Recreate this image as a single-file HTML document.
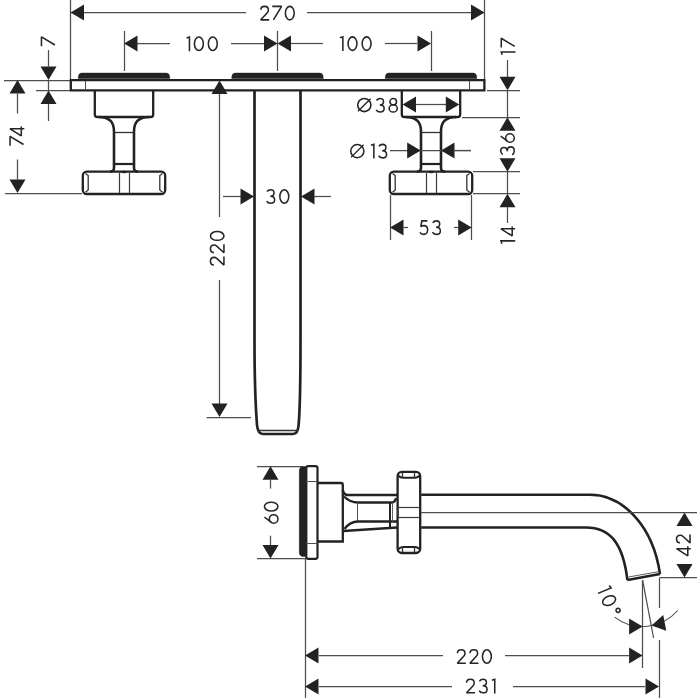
<!DOCTYPE html>
<html><head><meta charset="utf-8"><style>
html,body{margin:0;padding:0;background:#fff;width:700px;height:700px;overflow:hidden}
svg{display:block}
text{font-family:"Liberation Sans",sans-serif}
</style></head><body>
<svg width="700" height="700" viewBox="0 0 700 700">
<rect width="700" height="700" fill="#fff"/>
<line x1="70.5" y1="0" x2="70.5" y2="79" stroke="#4d4d4d" stroke-width="1.25"/>
<line x1="484.5" y1="0" x2="484.5" y2="79" stroke="#4d4d4d" stroke-width="1.25"/>
<line x1="70.5" y1="12.5" x2="246" y2="12.5" stroke="#4d4d4d" stroke-width="1.25"/>
<line x1="307" y1="12.5" x2="484.5" y2="12.5" stroke="#4d4d4d" stroke-width="1.25"/>
<polygon points="70.50,12.50 84.00,4.50 84.00,20.50" fill="#222"/>
<polygon points="484.50,12.50 471.00,4.50 471.00,20.50" fill="#222"/>
<line x1="124.5" y1="31" x2="124.5" y2="71" stroke="#4d4d4d" stroke-width="1.25"/>
<line x1="277.5" y1="31" x2="277.5" y2="71" stroke="#4d4d4d" stroke-width="1.25"/>
<line x1="431.5" y1="31" x2="431.5" y2="71" stroke="#4d4d4d" stroke-width="1.25"/>
<line x1="137" y1="43.5" x2="170" y2="43.5" stroke="#4d4d4d" stroke-width="1.25"/>
<line x1="231" y1="43.5" x2="264" y2="43.5" stroke="#4d4d4d" stroke-width="1.25"/>
<line x1="291" y1="43.5" x2="323" y2="43.5" stroke="#4d4d4d" stroke-width="1.25"/>
<line x1="385" y1="43.5" x2="417" y2="43.5" stroke="#4d4d4d" stroke-width="1.25"/>
<polygon points="124.00,43.50 137.50,35.50 137.50,51.50" fill="#222"/>
<polygon points="277.50,43.50 264.00,35.50 264.00,51.50" fill="#222"/>
<polygon points="277.50,43.50 291.00,35.50 291.00,51.50" fill="#222"/>
<polygon points="431.00,43.50 417.50,35.50 417.50,51.50" fill="#222"/>
<path d="M78.2,78.5 L78.5,75.8 Q79.0,73.1 81.7,73.1 H166.3 Q169.0,73.1 169.5,75.8 L169.8,78.5 Z" stroke="#222" stroke-width="0.5" fill="#222" />
<path d="M231.7,78.5 L232.0,75.8 Q232.5,73.1 235.2,73.1 H319.8 Q322.5,73.1 323.0,75.8 L323.3,78.5 Z" stroke="#222" stroke-width="0.5" fill="#222" />
<path d="M385.2,78.5 L385.5,75.8 Q386.0,73.1 388.7,73.1 H473.3 Q476.0,73.1 476.5,75.8 L476.8,78.5 Z" stroke="#222" stroke-width="0.5" fill="#222" />
<path d="M70.8,80.2 H484.4 V90.4 H70.8 Z" stroke="#222" stroke-width="2.3" fill="none" />
<line x1="85.5" y1="81" x2="85.5" y2="89.5" stroke="#4d4d4d" stroke-width="1.0"/>
<line x1="469.5" y1="81" x2="469.5" y2="89.5" stroke="#4d4d4d" stroke-width="1.0"/>
<path d="M94.8,91 V114.5 Q94.8,117 97.3,117 H150.7 Q153.2,117 153.2,114.5 V91" stroke="#222" stroke-width="2.3" fill="none" />
<path d="M99,117 C110,117.5 114,122 114,132 V168 Q114,171.6 110,171.6" stroke="#222" stroke-width="2.6" fill="none" />
<path d="M149,117 C138,117.5 134,122 134,132 V168 Q134,171.6 138,171.6" stroke="#222" stroke-width="2.6" fill="none" />
<line x1="114" y1="132.5" x2="134" y2="132.5" stroke="#333" stroke-width="1.3"/>
<line x1="114" y1="164" x2="134" y2="164" stroke="#222" stroke-width="2.2"/>
<rect x="82.8" y="171.6" width="82.4" height="22.4" rx="4" fill="none" stroke="#222" stroke-width="2.3"/>
<path d="M85.5,173.5 L88.2,175.5 V190 L85.5,192.2" stroke="#333" stroke-width="1.3" fill="none" />
<path d="M162.5,173.5 L159.8,175.5 V190 L162.5,192.2" stroke="#333" stroke-width="1.3" fill="none" />
<line x1="119.5" y1="173" x2="119.5" y2="193" stroke="#3a3a3a" stroke-width="1.2"/>
<ellipse cx="124" cy="172" rx="2.8" ry="1.3" fill="#222"/>
<line x1="129.5" y1="173" x2="129.5" y2="193" stroke="#3a3a3a" stroke-width="1.2"/>
<path d="M401.8,91 V114.5 Q401.8,117 404.3,117 H457.7 Q460.2,117 460.2,114.5 V91" stroke="#222" stroke-width="2.3" fill="none" />
<path d="M406,117 C417,117.5 421,122 421,132 V168 Q421,171.6 417,171.6" stroke="#222" stroke-width="2.6" fill="none" />
<path d="M456,117 C445,117.5 441,122 441,132 V168 Q441,171.6 445,171.6" stroke="#222" stroke-width="2.6" fill="none" />
<line x1="421" y1="132.5" x2="441" y2="132.5" stroke="#333" stroke-width="1.3"/>
<line x1="421" y1="164" x2="441" y2="164" stroke="#222" stroke-width="2.2"/>
<rect x="389.8" y="171.6" width="82.4" height="22.4" rx="4" fill="none" stroke="#222" stroke-width="2.3"/>
<path d="M392.5,173.5 L395.2,175.5 V190 L392.5,192.2" stroke="#333" stroke-width="1.3" fill="none" />
<path d="M469.5,173.5 L466.8,175.5 V190 L469.5,192.2" stroke="#333" stroke-width="1.3" fill="none" />
<line x1="426.5" y1="173" x2="426.5" y2="193" stroke="#3a3a3a" stroke-width="1.2"/>
<ellipse cx="431" cy="172" rx="2.8" ry="1.3" fill="#222"/>
<line x1="436.5" y1="173" x2="436.5" y2="193" stroke="#3a3a3a" stroke-width="1.2"/>
<path d="M254.5,91 V340 C254.5,385 256,412 257,425 Q257.8,434 263,434 H293 Q298,434 298.6,425 C299.8,412 300.5,385 300.5,340 V91" stroke="#222" stroke-width="2.7" fill="none" />
<line x1="257.5" y1="430.5" x2="298" y2="430.5" stroke="#333" stroke-width="1.3"/>
<line x1="4" y1="80.5" x2="70" y2="80.5" stroke="#4d4d4d" stroke-width="1.25"/>
<line x1="36" y1="90.5" x2="70" y2="90.5" stroke="#4d4d4d" stroke-width="1.25"/>
<line x1="48.5" y1="50" x2="48.5" y2="66.5" stroke="#4d4d4d" stroke-width="1.25"/>
<polygon points="48.50,80.00 40.50,66.50 56.50,66.50" fill="#222"/>
<polygon points="48.50,90.50 40.50,104.00 56.50,104.00" fill="#222"/>
<line x1="48.5" y1="80" x2="48.5" y2="90.5" stroke="#4d4d4d" stroke-width="1.25"/>
<line x1="48.5" y1="104" x2="48.5" y2="121" stroke="#4d4d4d" stroke-width="1.25"/>
<polygon points="17.50,80.00 9.50,93.50 25.50,93.50" fill="#222"/>
<line x1="17.5" y1="93.5" x2="17.5" y2="113.5" stroke="#4d4d4d" stroke-width="1.25"/>
<line x1="17.5" y1="159.5" x2="17.5" y2="179.5" stroke="#4d4d4d" stroke-width="1.25"/>
<polygon points="17.50,193.00 9.50,179.50 25.50,179.50" fill="#222"/>
<line x1="5" y1="193.5" x2="82" y2="193.5" stroke="#4d4d4d" stroke-width="1.25"/>
<polygon points="219.50,80.50 211.50,94.00 227.50,94.00" fill="#222"/>
<line x1="219.5" y1="94" x2="219.5" y2="217" stroke="#4d4d4d" stroke-width="1.25"/>
<line x1="219.5" y1="280" x2="219.5" y2="404" stroke="#4d4d4d" stroke-width="1.25"/>
<polygon points="219.50,417.00 211.50,403.50 227.50,403.50" fill="#222"/>
<line x1="206.7" y1="417.5" x2="251" y2="417.5" stroke="#4d4d4d" stroke-width="1.25"/>
<line x1="223" y1="196.5" x2="241" y2="196.5" stroke="#4d4d4d" stroke-width="1.25"/>
<polygon points="254.00,196.50 240.50,188.50 240.50,204.50" fill="#222"/>
<polygon points="301.00,196.50 314.50,188.50 314.50,204.50" fill="#222"/>
<line x1="314" y1="196.5" x2="331" y2="196.5" stroke="#4d4d4d" stroke-width="1.25"/>
<line x1="415" y1="104.5" x2="446" y2="104.5" stroke="#4d4d4d" stroke-width="1.25"/>
<polygon points="402.50,104.50 416.00,96.50 416.00,112.50" fill="#222"/>
<polygon points="459.30,104.50 445.80,96.50 445.80,112.50" fill="#222"/>
<circle cx="364.3" cy="105" r="6.6" fill="none" stroke="#262626" stroke-width="1.55"/>
<line x1="358.00" y1="111.30" x2="370.60" y2="98.70" stroke="#222" stroke-width="1.3"/>
<line x1="390" y1="150.5" x2="471" y2="150.5" stroke="#4d4d4d" stroke-width="1.25"/>
<polygon points="420.70,150.50 407.20,142.50 407.20,158.50" fill="#222"/>
<polygon points="441.00,150.50 454.50,142.50 454.50,158.50" fill="#222"/>
<line x1="454" y1="150.5" x2="471" y2="150.5" stroke="#4d4d4d" stroke-width="1.25"/>
<circle cx="357.3" cy="151.1" r="6.6" fill="none" stroke="#262626" stroke-width="1.55"/>
<line x1="351.00" y1="157.40" x2="363.60" y2="144.80" stroke="#222" stroke-width="1.3"/>
<line x1="487" y1="90.5" x2="520" y2="90.5" stroke="#4d4d4d" stroke-width="1.25"/>
<line x1="462" y1="117.5" x2="520" y2="117.5" stroke="#4d4d4d" stroke-width="1.25"/>
<line x1="473" y1="171.5" x2="520" y2="171.5" stroke="#4d4d4d" stroke-width="1.25"/>
<line x1="473" y1="193.5" x2="520" y2="193.5" stroke="#4d4d4d" stroke-width="1.25"/>
<line x1="507.5" y1="60" x2="507.5" y2="77" stroke="#4d4d4d" stroke-width="1.25"/>
<polygon points="507.50,90.30 499.50,76.80 515.50,76.80" fill="#222"/>
<polygon points="507.50,117.30 499.50,130.80 515.50,130.80" fill="#222"/>
<polygon points="507.50,171.70 499.50,158.20 515.50,158.20" fill="#222"/>
<polygon points="507.50,193.80 499.50,207.30 515.50,207.30" fill="#222"/>
<line x1="507.5" y1="206.8" x2="507.5" y2="223" stroke="#4d4d4d" stroke-width="1.25"/>
<line x1="507.5" y1="90.3" x2="507.5" y2="117.3" stroke="#4d4d4d" stroke-width="1.25"/>
<line x1="507.5" y1="171.7" x2="507.5" y2="193.8" stroke="#4d4d4d" stroke-width="1.25"/>
<line x1="390.5" y1="195" x2="390.5" y2="240" stroke="#4d4d4d" stroke-width="1.25"/>
<line x1="471.5" y1="195" x2="471.5" y2="240" stroke="#4d4d4d" stroke-width="1.25"/>
<polygon points="390.00,227.50 403.50,219.50 403.50,235.50" fill="#222"/>
<line x1="403.6" y1="227.5" x2="408" y2="227.5" stroke="#4d4d4d" stroke-width="1.25"/>
<line x1="454" y1="227.5" x2="458" y2="227.5" stroke="#4d4d4d" stroke-width="1.25"/>
<polygon points="471.70,227.50 458.20,219.50 458.20,235.50" fill="#222"/>
<line x1="257" y1="466.5" x2="303" y2="466.5" stroke="#4d4d4d" stroke-width="1.25"/>
<line x1="257" y1="558.5" x2="305" y2="558.5" stroke="#4d4d4d" stroke-width="1.25"/>
<polygon points="270.50,466.30 262.50,479.80 278.50,479.80" fill="#222"/>
<line x1="270.5" y1="480" x2="270.5" y2="488.6" stroke="#4d4d4d" stroke-width="1.25"/>
<line x1="270.5" y1="535.7" x2="270.5" y2="545.7" stroke="#4d4d4d" stroke-width="1.25"/>
<polygon points="270.50,558.60 262.50,545.10 278.50,545.10" fill="#222"/>
<path d="M306,466.6 H302.3 Q299.4,467.2 299.3,470.5 V552.5 Q299.4,555.8 302.3,556.4 H306 Z" stroke="#222" stroke-width="0.5" fill="#222" />
<rect x="306.3" y="466.2" width="11.2" height="92.6" rx="2" fill="none" stroke="#222" stroke-width="2.2"/>
<line x1="306" y1="481.5" x2="317.5" y2="481.5" stroke="#4d4d4d" stroke-width="1.0"/>
<line x1="306" y1="543.5" x2="317.5" y2="543.5" stroke="#4d4d4d" stroke-width="1.0"/>
<path d="M317.8,483 H341 Q342.8,483 342.8,485 V541.5 H317.8" stroke="#222" stroke-width="2.3" fill="none" />
<path d="M342.8,490 Q343.5,495 348,495 H397" stroke="#222" stroke-width="2.6" fill="none" />
<path d="M344,496.5 Q350,502.5 358,502.5 H392 Q395,502.5 396,498" stroke="#222" stroke-width="2.4" fill="none" />
<line x1="357.5" y1="502.5" x2="357.5" y2="521.5" stroke="#4d4d4d" stroke-width="1.0"/>
<path d="M344.5,529 Q350,521.5 358,521.5 H397" stroke="#222" stroke-width="2.4" fill="none" />
<path d="M343.5,531 L397,527.5" stroke="#222" stroke-width="2.4" fill="none" />
<line x1="390" y1="502.5" x2="390" y2="527" stroke="#222" stroke-width="2.0"/>
<line x1="392.5" y1="502" x2="392.5" y2="522" stroke="#4d4d4d" stroke-width="0.9"/>
<rect x="397.6" y="471.8" width="22.6" height="81.2" rx="4.2" fill="none" stroke="#222" stroke-width="2.3"/>
<path d="M398.6,475.6 Q400,477.8 403,477.8 H415 Q418,477.8 419.2,475.6" stroke="#222" stroke-width="2.0" fill="none" />
<line x1="402.5" y1="472.5" x2="402.5" y2="477.8" stroke="#333" stroke-width="1.3"/>
<line x1="414.5" y1="472.5" x2="414.5" y2="477.8" stroke="#333" stroke-width="1.3"/>
<path d="M398.6,549.1 Q400,546.9 403,546.9 H415 Q418,546.9 419.2,549.1" stroke="#222" stroke-width="2.0" fill="none" />
<line x1="402.5" y1="546.9" x2="402.5" y2="552.2" stroke="#333" stroke-width="1.3"/>
<line x1="414.5" y1="546.9" x2="414.5" y2="552.2" stroke="#333" stroke-width="1.3"/>
<line x1="398" y1="507.5" x2="420" y2="507.5" stroke="#3a3a3a" stroke-width="1.2"/>
<line x1="398" y1="517.5" x2="420" y2="517.5" stroke="#3a3a3a" stroke-width="1.2"/>
<ellipse cx="398" cy="512.5" rx="1" ry="3.5" fill="#444"/>
<path d="M421.2,494.8 H590 C623,494.8 653,526 660,574" stroke="#222" stroke-width="2.6" fill="none" />
<path d="M421.2,527.5 H586 C610,527.5 623,543 627.4,580" stroke="#222" stroke-width="2.6" fill="none" />
<path d="M627.4,580 L660,574" stroke="#222" stroke-width="2.6" fill="none" />
<line x1="628.5" y1="577" x2="659" y2="571.6" stroke="#4d4d4d" stroke-width="0.9"/>
<line x1="421.2" y1="512.5" x2="697" y2="512.5" stroke="#4d4d4d" stroke-width="1.25"/>
<polygon points="684.50,512.50 676.50,526.00 692.50,526.00" fill="#222"/>
<polygon points="684.50,577.50 676.50,564.00 692.50,564.00" fill="#222"/>
<line x1="660" y1="577.5" x2="697" y2="577.5" stroke="#4d4d4d" stroke-width="1.25"/>
<line x1="642.5" y1="580" x2="642.5" y2="668" stroke="#4d4d4d" stroke-width="1.25"/>
<line x1="642.6" y1="580" x2="653.6" y2="638" stroke="#4d4d4d" stroke-width="1.25"/>
<line x1="659.5" y1="577.5" x2="659.5" y2="608" stroke="#4d4d4d" stroke-width="1.25"/>
<line x1="659.5" y1="640" x2="659.5" y2="698" stroke="#4d4d4d" stroke-width="1.25"/>
<path d="M614.62,617.14 A46.5,46.5 0 0 0 677.69,610.51" stroke="#4d4d4d" stroke-width="1.1" fill="none" />
<polygon points="642.60,626.50 629.10,634.50 629.10,618.50" fill="#222"/>
<polygon points="651.50,625.50 663.23,615.07 666.28,630.78" fill="#222"/>
<line x1="305.5" y1="558" x2="305.5" y2="698" stroke="#4d4d4d" stroke-width="1.25"/>
<polygon points="305.00,655.50 318.50,647.50 318.50,663.50" fill="#222"/>
<line x1="319" y1="655.5" x2="443" y2="655.5" stroke="#4d4d4d" stroke-width="1.25"/>
<line x1="505" y1="655.5" x2="629" y2="655.5" stroke="#4d4d4d" stroke-width="1.25"/>
<polygon points="642.60,655.50 629.10,647.50 629.10,663.50" fill="#222"/>
<polygon points="305.00,686.50 318.50,678.50 318.50,694.50" fill="#222"/>
<line x1="319" y1="686.5" x2="452" y2="686.5" stroke="#4d4d4d" stroke-width="1.25"/>
<line x1="513" y1="686.5" x2="645" y2="686.5" stroke="#4d4d4d" stroke-width="1.25"/>
<polygon points="659.00,686.50 645.50,678.50 645.50,694.50" fill="#222"/>
<g fill="none" stroke="#262626" stroke-miterlimit="2" stroke-width="1.55"><g transform="translate(259.90,5.60)"><g transform="translate(0.00,0)"><path d="M0.9,4.2 C0.9,2 2.7,0.75 4.7,0.75 C6.9,0.75 8.5,2.3 8.5,4.4 C8.5,5.5 8.0,6.4 7.2,7.3 L0.8,14.25 H9.3"/></g><g transform="translate(11.65,0)"><path d="M0.75,0.75 H10.05 L1.9,14.25"/></g><g transform="translate(24.70,0)"><ellipse cx="5.2" cy="7.5" rx="4.45" ry="6.75"/></g></g>
<g transform="translate(185.80,36.20)"><g transform="translate(0.00,0)"><path d="M0.75,1.7 L3.65,0.75 V15"/></g><g transform="translate(7.90,0)"><ellipse cx="5.2" cy="7.5" rx="4.45" ry="6.75"/></g><g transform="translate(21.80,0)"><ellipse cx="5.2" cy="7.5" rx="4.45" ry="6.75"/></g></g>
<g transform="translate(339.20,36.10)"><g transform="translate(0.00,0)"><path d="M0.75,1.7 L3.65,0.75 V15"/></g><g transform="translate(8.10,0)"><ellipse cx="5.2" cy="7.5" rx="4.45" ry="6.75"/></g><g transform="translate(22.20,0)"><ellipse cx="5.2" cy="7.5" rx="4.45" ry="6.75"/></g></g>
<g transform="translate(40.70,46.90) rotate(-90)"><g transform="translate(0.00,0)"><path d="M0.75,0.75 H10.05 L1.9,14.25"/></g></g>
<g transform="translate(9.30,146.40) rotate(-90)"><g transform="translate(0.00,0)"><path d="M0.75,0.75 H10.05 L1.9,14.25"/></g><g transform="translate(9.70,0)"><path d="M7.9,15 V0.75 L0.75,12 H10.3"/></g></g>
<g transform="translate(209.70,265.90) rotate(-90)"><g transform="translate(0.00,0)"><path d="M0.9,4.2 C0.9,2 2.7,0.75 4.7,0.75 C6.9,0.75 8.5,2.3 8.5,4.4 C8.5,5.5 8.0,6.4 7.2,7.3 L0.8,14.25 H9.3"/></g><g transform="translate(12.40,0)"><path d="M0.9,4.2 C0.9,2 2.7,0.75 4.7,0.75 C6.9,0.75 8.5,2.3 8.5,4.4 C8.5,5.5 8.0,6.4 7.2,7.3 L0.8,14.25 H9.3"/></g><g transform="translate(24.80,0)"><ellipse cx="5.2" cy="7.5" rx="4.45" ry="6.75"/></g></g>
<g transform="translate(266.00,189.00)"><g transform="translate(0.00,0)"><path d="M1.0,2.7 C1.8,1.4 3.1,0.75 4.6,0.75 C6.6,0.75 8.0,2.1 8.0,3.9 C8.0,5.8 6.5,7.2 4.3,7.2 C6.8,7.2 8.65,8.7 8.65,10.8 C8.65,12.9 6.9,14.25 4.7,14.25 C2.8,14.25 1.4,13.4 0.75,12.1"/></g><g transform="translate(13.10,0)"><ellipse cx="5.2" cy="7.5" rx="4.45" ry="6.75"/></g></g>
<g transform="translate(375.50,97.80)"><g transform="translate(0.00,0)"><path d="M1.0,2.7 C1.8,1.4 3.1,0.75 4.6,0.75 C6.6,0.75 8.0,2.1 8.0,3.9 C8.0,5.8 6.5,7.2 4.3,7.2 C6.8,7.2 8.65,8.7 8.65,10.8 C8.65,12.9 6.9,14.25 4.7,14.25 C2.8,14.25 1.4,13.4 0.75,12.1"/></g><g transform="translate(12.90,0)"><ellipse cx="4.8" cy="3.95" rx="3.3" ry="3.2"/><ellipse cx="4.8" cy="10.6" rx="4.05" ry="3.65"/></g></g>
<g transform="translate(370.20,143.60)"><g transform="translate(0.00,0)"><path d="M0.75,1.7 L3.65,0.75 V15"/></g><g transform="translate(7.70,0)"><path d="M1.0,2.7 C1.8,1.4 3.1,0.75 4.6,0.75 C6.6,0.75 8.0,2.1 8.0,3.9 C8.0,5.8 6.5,7.2 4.3,7.2 C6.8,7.2 8.65,8.7 8.65,10.8 C8.65,12.9 6.9,14.25 4.7,14.25 C2.8,14.25 1.4,13.4 0.75,12.1"/></g></g>
<g transform="translate(500.50,55.60) rotate(-90)"><g transform="translate(0.00,0)"><path d="M0.75,1.7 L3.65,0.75 V15"/></g><g transform="translate(7.30,0)"><path d="M0.75,0.75 H10.05 L1.9,14.25"/></g></g>
<g transform="translate(500.00,155.50) rotate(-90)"><g transform="translate(0.00,0)"><path d="M1.0,2.7 C1.8,1.4 3.1,0.75 4.6,0.75 C6.6,0.75 8.0,2.1 8.0,3.9 C8.0,5.8 6.5,7.2 4.3,7.2 C6.8,7.2 8.65,8.7 8.65,10.8 C8.65,12.9 6.9,14.25 4.7,14.25 C2.8,14.25 1.4,13.4 0.75,12.1"/></g><g transform="translate(12.75,0)"><circle cx="4.75" cy="9.95" r="4.3"/><path d="M6.6,0.75 L1.3,7.7"/></g></g>
<g transform="translate(500.20,244.50) rotate(-90)"><g transform="translate(0.00,0)"><path d="M0.75,1.7 L3.65,0.75 V15"/></g><g transform="translate(7.80,0)"><path d="M7.9,15 V0.75 L0.75,12 H10.3"/></g></g>
<g transform="translate(419.10,220.10)"><g transform="translate(0.00,0)"><path d="M8.3,0.75 H2.7 L1.7,6.5 C2.5,5.9 3.6,5.5 4.8,5.5 C7.1,5.5 8.55,7.4 8.55,9.9 C8.55,12.4 6.8,14.25 4.6,14.25 C2.8,14.25 1.5,13.4 0.75,12.2"/></g><g transform="translate(12.60,0)"><path d="M1.0,2.7 C1.8,1.4 3.1,0.75 4.6,0.75 C6.6,0.75 8.0,2.1 8.0,3.9 C8.0,5.8 6.5,7.2 4.3,7.2 C6.8,7.2 8.65,8.7 8.65,10.8 C8.65,12.9 6.9,14.25 4.7,14.25 C2.8,14.25 1.4,13.4 0.75,12.1"/></g></g>
<g transform="translate(263.70,523.70) rotate(-90)"><g transform="translate(0.00,0)"><circle cx="4.75" cy="9.95" r="4.3"/><path d="M6.6,0.75 L1.3,7.7"/></g><g transform="translate(11.90,0)"><ellipse cx="5.2" cy="7.5" rx="4.45" ry="6.75"/></g></g>
<g transform="translate(675.80,556.60) rotate(-90)"><g transform="translate(0.00,0)"><path d="M7.9,15 V0.75 L0.75,12 H10.3"/></g><g transform="translate(12.90,0)"><path d="M0.9,4.2 C0.9,2 2.7,0.75 4.7,0.75 C6.9,0.75 8.5,2.3 8.5,4.4 C8.5,5.5 8.0,6.4 7.2,7.3 L0.8,14.25 H9.3"/></g></g>
<g transform="translate(610.44,584.24) rotate(67.5)"><g transform="translate(0.00,0)"><path d="M0.75,1.7 L3.65,0.75 V15"/></g><g transform="translate(9.40,0)"><ellipse cx="5.2" cy="7.5" rx="4.45" ry="6.75"/></g><g transform="translate(24.80,0)"><circle cx="2.25" cy="3.0" r="2.0"/></g></g>
<g transform="translate(456.50,649.00)"><g transform="translate(0.00,0)"><path d="M0.9,4.2 C0.9,2 2.7,0.75 4.7,0.75 C6.9,0.75 8.5,2.3 8.5,4.4 C8.5,5.5 8.0,6.4 7.2,7.3 L0.8,14.25 H9.3"/></g><g transform="translate(12.60,0)"><path d="M0.9,4.2 C0.9,2 2.7,0.75 4.7,0.75 C6.9,0.75 8.5,2.3 8.5,4.4 C8.5,5.5 8.0,6.4 7.2,7.3 L0.8,14.25 H9.3"/></g><g transform="translate(25.20,0)"><ellipse cx="5.2" cy="7.5" rx="4.45" ry="6.75"/></g></g>
<g transform="translate(465.70,678.60)"><g transform="translate(0.00,0)"><path d="M0.9,4.2 C0.9,2 2.7,0.75 4.7,0.75 C6.9,0.75 8.5,2.3 8.5,4.4 C8.5,5.5 8.0,6.4 7.2,7.3 L0.8,14.25 H9.3"/></g><g transform="translate(12.70,0)"><path d="M1.0,2.7 C1.8,1.4 3.1,0.75 4.6,0.75 C6.6,0.75 8.0,2.1 8.0,3.9 C8.0,5.8 6.5,7.2 4.3,7.2 C6.8,7.2 8.65,8.7 8.65,10.8 C8.65,12.9 6.9,14.25 4.7,14.25 C2.8,14.25 1.4,13.4 0.75,12.1"/></g><g transform="translate(25.40,0)"><path d="M0.75,1.7 L3.65,0.75 V15"/></g></g></g>
</svg></body></html>
